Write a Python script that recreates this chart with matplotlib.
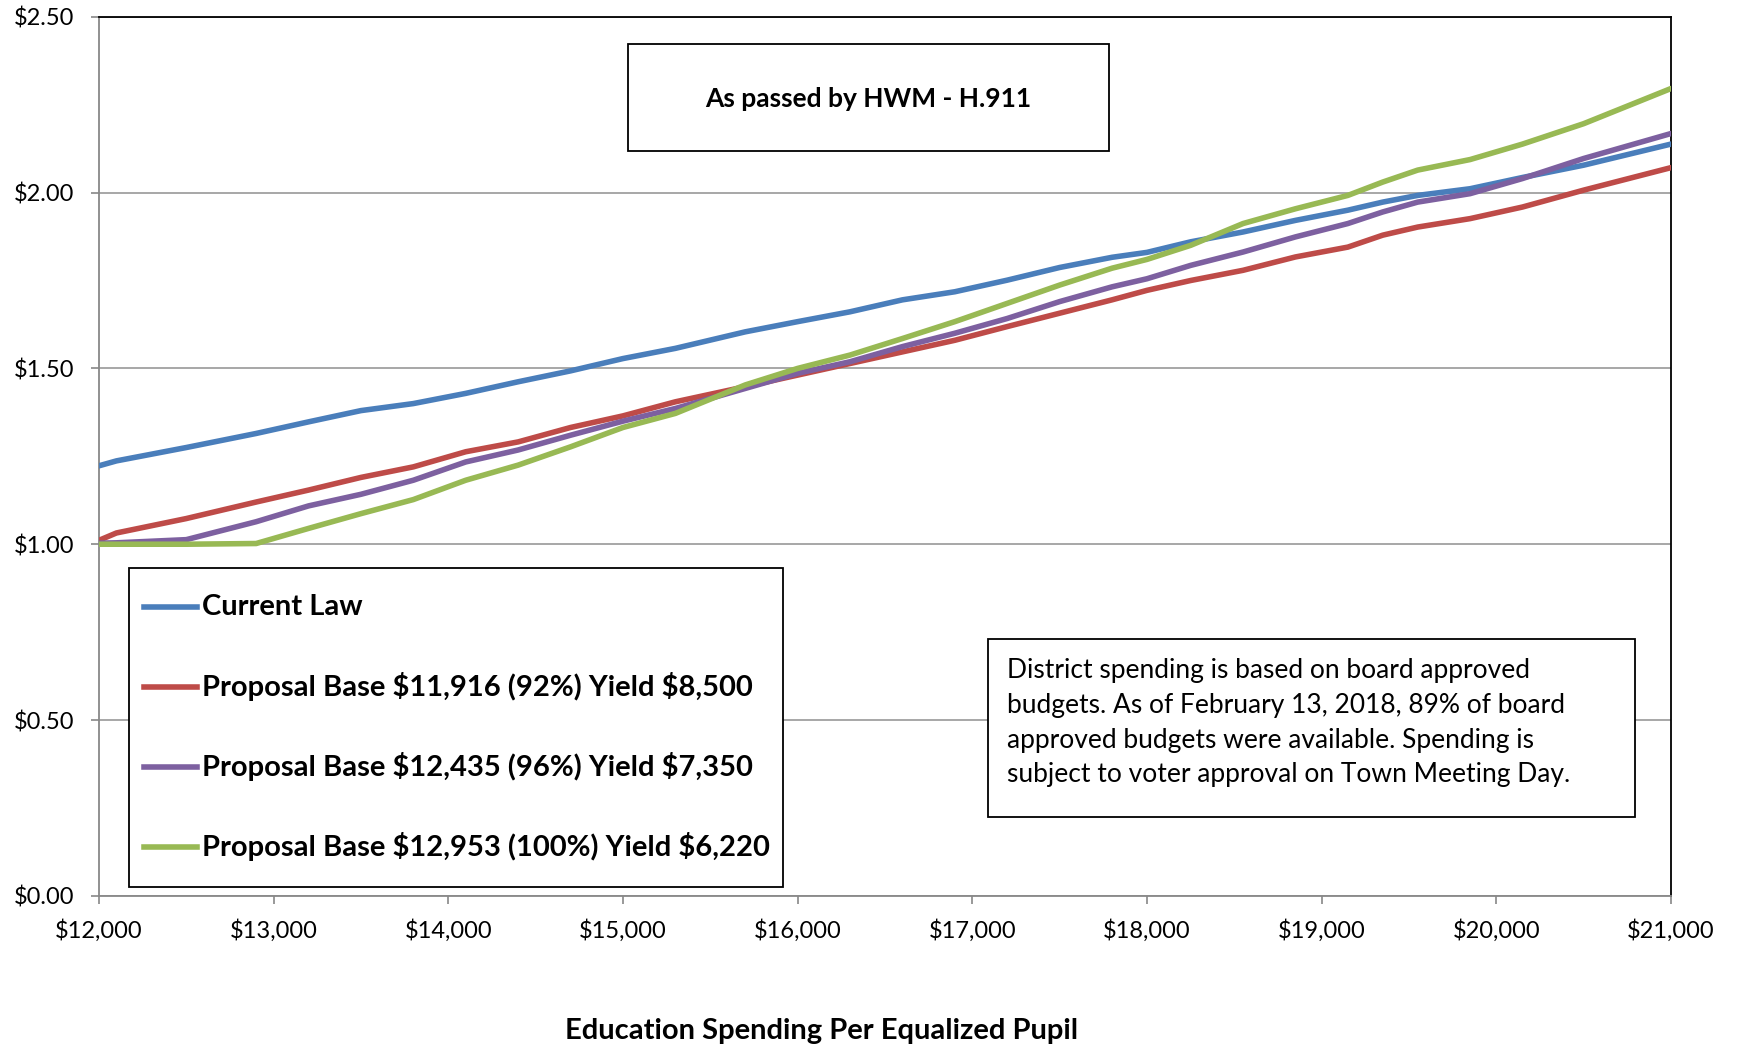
import matplotlib
matplotlib.use("Agg")
import matplotlib.pyplot as plt
from matplotlib.patches import Rectangle
from matplotlib.lines import Line2D
from matplotlib.ticker import FuncFormatter

plt.rcParams['font.family'] = ['Lato', 'DejaVu Sans']
plt.rcParams['text.parse_math'] = False

# spending per equalized pupil (x) and tax rate for each scenario
spend = [12000, 12100, 12500, 12900, 13200, 13500, 13800, 14100, 14400, 14700,
         15000, 15300, 15700, 16000, 16300, 16600, 16900, 17200, 17500, 17800,
         18000, 18250, 18550, 18850, 19150, 19350, 19550, 19850, 20150, 20500, 21000]
current_law = [1.223, 1.237, 1.275, 1.315, 1.348, 1.380, 1.400, 1.429, 1.462, 1.493,
               1.528, 1.557, 1.604, 1.633, 1.661, 1.695, 1.718, 1.751, 1.787, 1.816,
               1.830, 1.860, 1.888, 1.921, 1.950, 1.973, 1.992, 2.011, 2.043, 2.078, 2.138]
base_11916 = [1.011, 1.032, 1.073, 1.120, 1.154, 1.190, 1.220, 1.263, 1.291, 1.332,
              1.365, 1.405, 1.448, 1.481, 1.514, 1.547, 1.580, 1.619, 1.657, 1.695,
              1.722, 1.750, 1.779, 1.817, 1.845, 1.879, 1.902, 1.926, 1.959, 2.007, 2.071]
base_12435 = [1.003, 1.004, 1.013, 1.064, 1.109, 1.142, 1.182, 1.234, 1.268, 1.310,
              1.350, 1.386, 1.443, 1.486, 1.519, 1.562, 1.600, 1.642, 1.690, 1.732,
              1.755, 1.793, 1.831, 1.874, 1.912, 1.945, 1.973, 1.997, 2.040, 2.097, 2.168]
base_12953 = [1.000, 1.000, 1.000, 1.002, 1.045, 1.087, 1.127, 1.182, 1.225, 1.277,
              1.332, 1.372, 1.453, 1.500, 1.538, 1.585, 1.633, 1.685, 1.737, 1.785,
              1.810, 1.850, 1.912, 1.954, 1.992, 2.030, 2.064, 2.094, 2.138, 2.196, 2.296]

labels = ["Current Law",
          "Proposal Base $11,916 (92%) Yield $8,500",
          "Proposal Base $12,435 (96%) Yield $7,350",
          "Proposal Base $12,953 (100%) Yield $6,220"]
colors = ["#4A7EBB", "#BE4B48", "#7D60A0", "#98B954"]
series = [current_law, base_11916, base_12435, base_12953]

fig = plt.figure(figsize=(17.39, 10.49), dpi=100)
ax = fig.add_axes([0.0569, 0.146, 0.904, 0.838])

for ys, c in zip(series, colors):
    ax.plot(spend, ys, color=c, lw=4.0, solid_capstyle='round',
            solid_joinstyle='round', zorder=3)

ax.set_xlim(12000, 21000)
ax.set_ylim(0, 2.5)
ax.set_xticks(range(12000, 21001, 1000))
ax.set_yticks([0, 0.5, 1.0, 1.5, 2.0, 2.5])
ax.xaxis.set_major_formatter(FuncFormatter(lambda v, p: "${:,.0f}".format(v)))
ax.yaxis.set_major_formatter(FuncFormatter(lambda v, p: "${:.2f}".format(v)))
ax.tick_params(axis='both', direction='out', length=6, width=1.2, color='#888888',
               labelsize=17)
ax.tick_params(axis='x', pad=11)
ax.tick_params(axis='y', pad=12)
ax.grid(axis='y', color='#a0a0a0', lw=1.3, zorder=1)
ax.set_axisbelow(True)
for s in ['left', 'bottom']:
    ax.spines[s].set_color('#888888')
    ax.spines[s].set_linewidth(1.3)
for s in ['top', 'right']:
    ax.spines[s].set_color('black')
    ax.spines[s].set_linewidth(1.3)

# title box
ax.add_patch(Rectangle((0.3365, 0.847), 0.306, 0.122, transform=ax.transAxes,
                       facecolor='white', edgecolor='black', lw=1.3, zorder=4))
ax.text(0.4895, 0.906, "As passed by HWM - H.911", transform=ax.transAxes,
        ha='center', va='center', fontsize=19, fontweight='bold', zorder=5)

# legend box
ax.add_patch(Rectangle((0.019, 0.010), 0.416, 0.363, transform=ax.transAxes,
                       facecolor='white', edgecolor='black', lw=1.3, zorder=4))
rows = [0.329, 0.238, 0.147, 0.056]
for lab, c, ry in zip(labels, colors, rows):
    ax.add_line(Line2D([0.0286, 0.0623], [ry, ry], transform=ax.transAxes,
                       color=c, lw=4.0, zorder=5))
    ax.text(0.0654, ry, lab, transform=ax.transAxes, ha='left', va='center',
            fontsize=21, fontweight='bold', zorder=5)

# note box
ax.add_patch(Rectangle((0.5655, 0.0898), 0.4115, 0.2022, transform=ax.transAxes,
                       facecolor='white', edgecolor='black', lw=1.3, zorder=4))
note = ("District spending is based on board approved\n"
        "budgets. As of February 13, 2018, 89% of board\n"
        "approved budgets were available. Spending is\n"
        "subject to voter approval on Town Meeting Day.")
ax.text(0.5776, 0.197, note, transform=ax.transAxes, ha='left', va='center',
        fontsize=19, linespacing=1.49, zorder=5)

fig.text(0.4727, 0.017, "Education Spending Per Equalized Pupil", ha='center',
         va='center', fontsize=21, fontweight='bold')

fig.savefig("out.png", dpi=100)
